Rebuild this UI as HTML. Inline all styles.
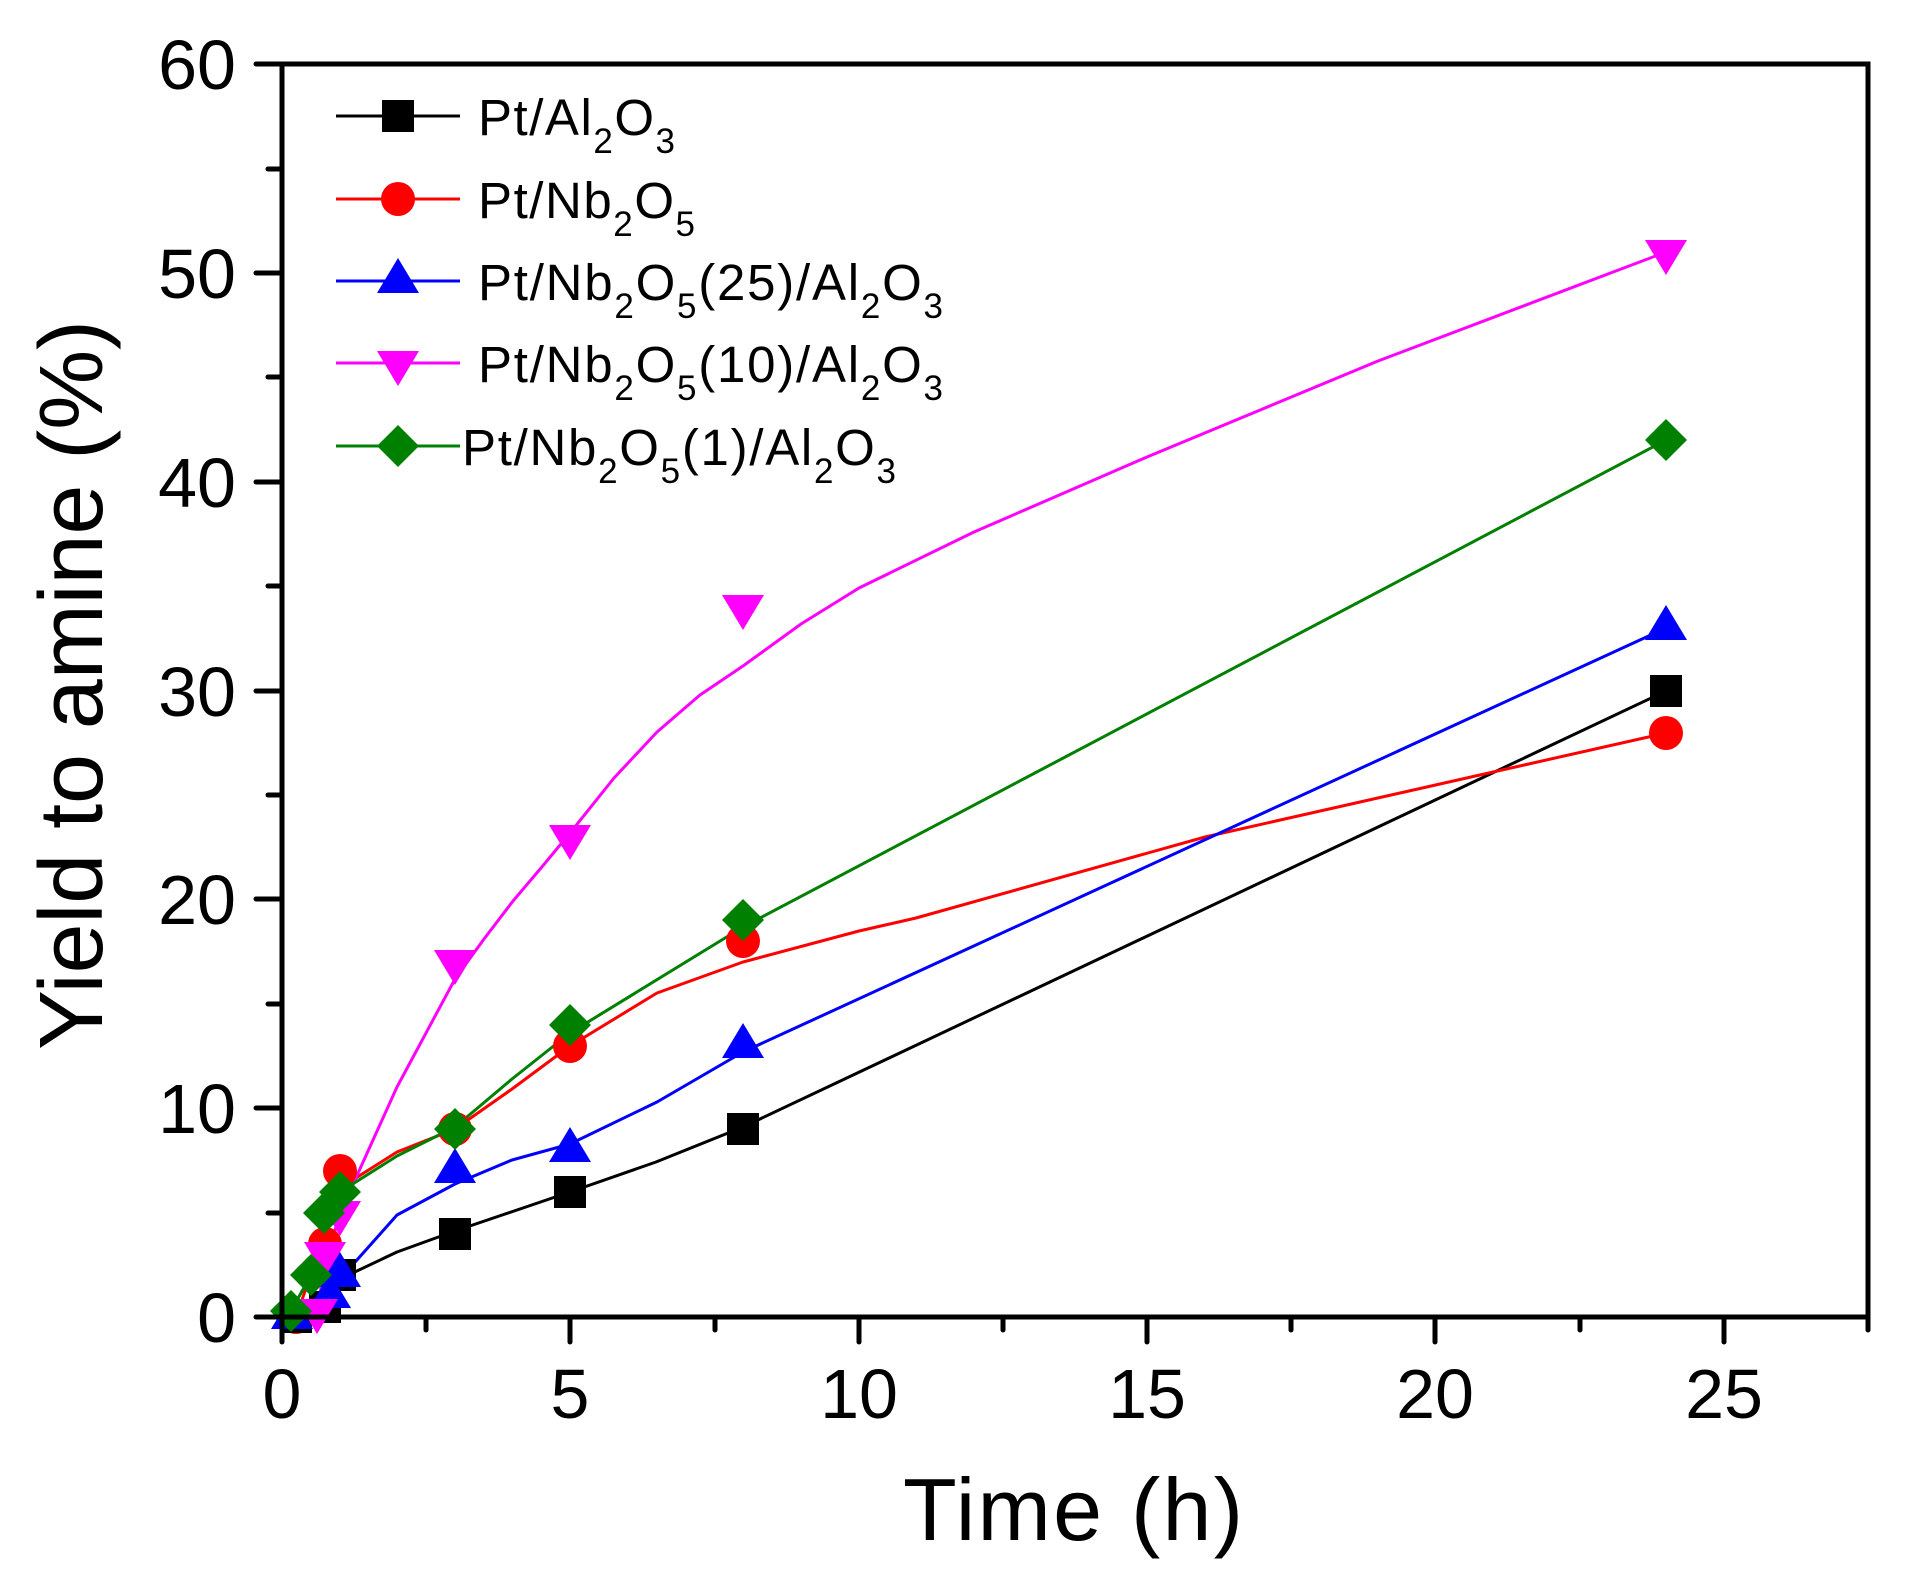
<!DOCTYPE html>
<html><head><meta charset="utf-8"><style>
html,body{margin:0;padding:0;background:#fff;}
svg{display:block;font-family:"Liberation Sans",Arial,sans-serif;}
</style></head><body>
<svg width="1907" height="1574" viewBox="0 0 1907 1574" xmlns="http://www.w3.org/2000/svg">
<defs>
<rect id="sq" x="-16" y="-16" width="32" height="32" fill="#000"/>
<circle id="ci" r="17" fill="#f00"/>
<polygon id="tu" points="0,-23 21,12 -21,12" fill="#00f"/>
<polygon id="td" points="-21,-12 21,-12 0,23" fill="#f0f"/>
<polygon id="di" points="0,-21 21,0 0,21 -21,0" fill="#008000"/>
</defs>
<rect width="1907" height="1574" fill="#fff"/>
<g fill="none" stroke-width="3" stroke-linejoin="round">
<polyline stroke="#000" points="296,1317 325,1300 340,1279 397,1252 455,1231 570,1192 656,1162 743,1127 1666,691"/>
<polyline stroke="#f00" points="296,1317 325,1234 340,1188 397,1152 455,1129 512,1089 570,1046 657,993 743,962 859,931 916,918 1205,837 1666,733"/>
<polyline stroke="#00f" points="292,1317 330,1292 340,1279 397,1215 455,1184 512,1160 570,1144 657,1102 743,1052 1666,628"/>
<polyline stroke="#f0f" points="317,1311 325,1265 340,1213 397,1087 455,979 484,939 513,901 541,868 570,833 614,778 657,732 700,695 743,666 801,624 859,588 974,532 1147,457 1378,361 1666,252"/>
<polyline stroke="#008000" points="291,1311 311,1275 324,1213 340,1192 397,1156 455,1127 512,1079 570,1033 743,927 1666,440"/>
</g>
<g>
<use href="#ci" x="296" y="1317"/><use href="#ci" x="325" y="1244"/><use href="#ci" x="340" y="1171"/><use href="#ci" x="455" y="1129"/><use href="#ci" x="570" y="1046"/><use href="#ci" x="743" y="941"/><use href="#ci" x="1666" y="733"/>
<use href="#sq" x="296" y="1317"/><use href="#sq" x="325" y="1307"/><use href="#sq" x="340" y="1275"/><use href="#sq" x="455" y="1234"/><use href="#sq" x="570" y="1192"/><use href="#sq" x="743" y="1129"/><use href="#sq" x="1666" y="691"/>
<use href="#tu" x="292" y="1317"/><use href="#tu" x="330" y="1296"/><use href="#tu" x="340" y="1275"/><use href="#tu" x="455" y="1171"/><use href="#tu" x="570" y="1150"/><use href="#tu" x="743" y="1046"/><use href="#tu" x="1666" y="628"/>
<use href="#td" x="317" y="1311"/><use href="#td" x="325" y="1254"/><use href="#td" x="340" y="1213"/><use href="#td" x="455" y="962"/><use href="#td" x="570" y="837"/><use href="#td" x="743" y="607"/><use href="#td" x="1666" y="252"/>
<use href="#di" x="291" y="1311"/><use href="#di" x="311" y="1275"/><use href="#di" x="324" y="1213"/><use href="#di" x="340" y="1192"/><use href="#di" x="455" y="1129"/><use href="#di" x="570" y="1025"/><use href="#di" x="743" y="920"/><use href="#di" x="1666" y="440"/>
</g>
<rect x="282" y="64" width="1586" height="1253" fill="none" stroke="#000" stroke-width="5"/>
<g stroke="#000" stroke-width="5" stroke-linecap="round">
<line x1="282" y1="1317" x2="282" y2="1342"/><line x1="426" y1="1317" x2="426" y2="1330"/>
<line x1="570" y1="1317" x2="570" y2="1342"/><line x1="715" y1="1317" x2="715" y2="1330"/>
<line x1="859" y1="1317" x2="859" y2="1342"/><line x1="1003" y1="1317" x2="1003" y2="1330"/>
<line x1="1147" y1="1317" x2="1147" y2="1342"/><line x1="1291" y1="1317" x2="1291" y2="1330"/>
<line x1="1435" y1="1317" x2="1435" y2="1342"/><line x1="1580" y1="1317" x2="1580" y2="1330"/>
<line x1="1724" y1="1317" x2="1724" y2="1342"/><line x1="1868" y1="1317" x2="1868" y2="1330"/>
<line x1="282" y1="1317" x2="256" y2="1317"/><line x1="282" y1="1213" x2="268" y2="1213"/>
<line x1="282" y1="1108" x2="256" y2="1108"/><line x1="282" y1="1004" x2="268" y2="1004"/>
<line x1="282" y1="899" x2="256" y2="899"/><line x1="282" y1="795" x2="268" y2="795"/>
<line x1="282" y1="691" x2="256" y2="691"/><line x1="282" y1="586" x2="268" y2="586"/>
<line x1="282" y1="482" x2="256" y2="482"/><line x1="282" y1="377" x2="268" y2="377"/>
<line x1="282" y1="273" x2="256" y2="273"/><line x1="282" y1="169" x2="268" y2="169"/>
<line x1="282" y1="64" x2="256" y2="64"/>
</g>
<g font-size="70" fill="#000" text-anchor="middle">
<text x="282" y="1418">0</text><text x="570" y="1418">5</text><text x="859" y="1418">10</text>
<text x="1147" y="1418">15</text><text x="1435" y="1418">20</text><text x="1724" y="1418">25</text>
</g>
<g font-size="70" fill="#000" text-anchor="end">
<text x="236" y="1342">0</text><text x="236" y="1133">10</text><text x="236" y="924">20</text>
<text x="236" y="716">30</text><text x="236" y="507">40</text><text x="236" y="298">50</text><text x="236" y="89">60</text>
</g>
<text x="1073" y="1540" font-size="88" text-anchor="middle" textLength="340">Time (h)</text>
<text transform="translate(102,685) rotate(-90)" font-size="90" text-anchor="middle" textLength="730">Yield to amine (%)</text>
<g font-size="51" fill="#000">
<line x1="336" y1="116" x2="460" y2="116" stroke="#000" stroke-width="3"/>
<use href="#sq" x="398" y="116"/>
<text x="478" y="135" textLength="197">Pt/Al<tspan font-size="35" dy="18">2</tspan><tspan dy="-18">O</tspan><tspan font-size="35" dy="18">3</tspan></text>
<line x1="336" y1="199" x2="460" y2="199" stroke="#f00" stroke-width="3"/>
<use href="#ci" x="398" y="199"/>
<text x="478" y="218" textLength="217">Pt/Nb<tspan font-size="35" dy="18">2</tspan><tspan dy="-18">O</tspan><tspan font-size="35" dy="18">5</tspan></text>
<line x1="336" y1="281" x2="460" y2="281" stroke="#00f" stroke-width="3"/>
<use href="#tu" x="398" y="281"/>
<text x="478" y="300" textLength="465">Pt/Nb<tspan font-size="35" dy="18">2</tspan><tspan dy="-18">O</tspan><tspan font-size="35" dy="18">5</tspan><tspan dy="-18">(25)/Al</tspan><tspan font-size="35" dy="18">2</tspan><tspan dy="-18">O</tspan><tspan font-size="35" dy="18">3</tspan></text>
<line x1="336" y1="363" x2="460" y2="363" stroke="#f0f" stroke-width="3"/>
<use href="#td" x="398" y="363"/>
<text x="478" y="382" textLength="465">Pt/Nb<tspan font-size="35" dy="18">2</tspan><tspan dy="-18">O</tspan><tspan font-size="35" dy="18">5</tspan><tspan dy="-18">(10)/Al</tspan><tspan font-size="35" dy="18">2</tspan><tspan dy="-18">O</tspan><tspan font-size="35" dy="18">3</tspan></text>
<line x1="336" y1="446" x2="460" y2="446" stroke="#008000" stroke-width="3"/>
<use href="#di" x="398" y="446"/>
<text x="462" y="465" textLength="434">Pt/Nb<tspan font-size="35" dy="18">2</tspan><tspan dy="-18">O</tspan><tspan font-size="35" dy="18">5</tspan><tspan dy="-18">(1)/Al</tspan><tspan font-size="35" dy="18">2</tspan><tspan dy="-18">O</tspan><tspan font-size="35" dy="18">3</tspan></text>
</g>
</svg>
</body></html>
